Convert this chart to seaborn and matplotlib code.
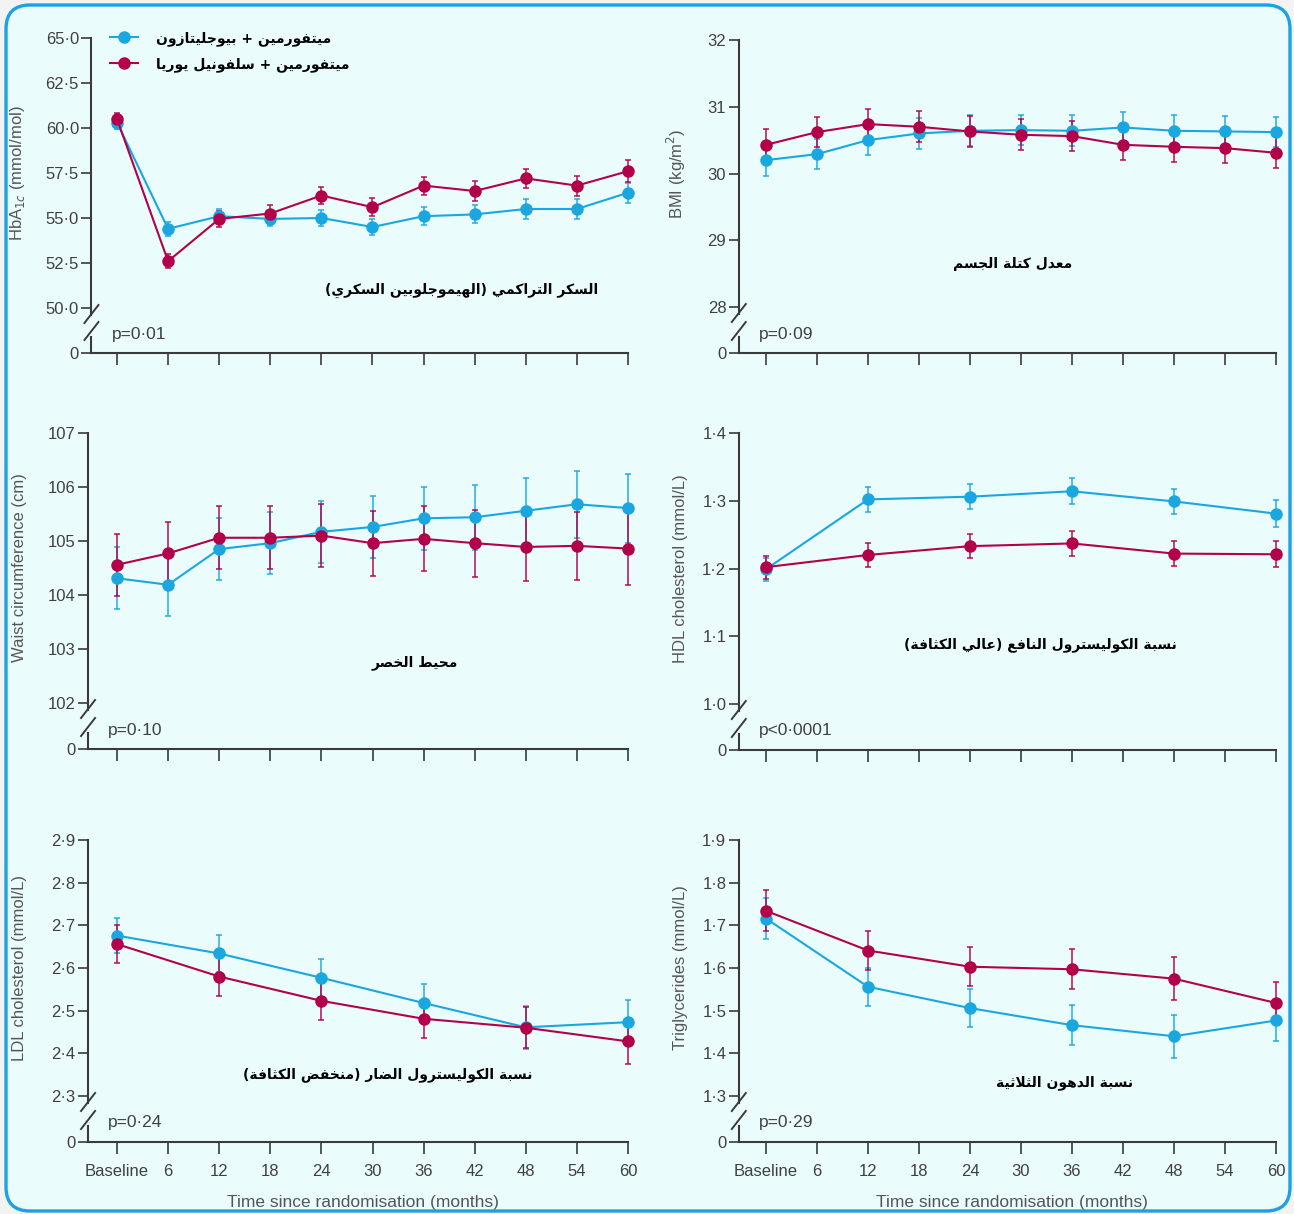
import numpy as np
import pandas as pd
import seaborn as sns
import matplotlib.pyplot as plt
from matplotlib.lines import Line2D
from matplotlib.patches import FancyBboxPatch

# ---- data ----
months = [0, 6, 12, 18, 24, 30, 36, 42, 48, 54, 60]
months_lipid = [0, 12, 24, 36, 48, 60]

hba1c_pio = [60.3, 54.4, 55.1, 54.95, 55.0, 54.5, 55.1, 55.2, 55.5, 55.5, 56.4]
hba1c_pio_se = [0.35, 0.4, 0.4, 0.4, 0.45, 0.45, 0.5, 0.5, 0.55, 0.55, 0.55]
hba1c_su = [60.5, 52.6, 54.95, 55.25, 56.25, 55.6, 56.8, 56.5, 57.2, 56.8, 57.6]
hba1c_su_se = [0.35, 0.4, 0.45, 0.45, 0.45, 0.5, 0.5, 0.55, 0.55, 0.55, 0.6]

bmi_pio = [30.2, 30.29, 30.5, 30.6, 30.64, 30.65, 30.64, 30.69, 30.64, 30.63, 30.62]
bmi_pio_se = [0.23] * 11
bmi_su = [30.43, 30.62, 30.74, 30.7, 30.63, 30.58, 30.56, 30.43, 30.4, 30.38, 30.31]
bmi_su_se = [0.23] * 11

waist_pio = [104.31, 104.19, 104.85, 104.96, 105.17, 105.26, 105.42, 105.44, 105.56, 105.68, 105.61]
waist_pio_se = [0.57, 0.57, 0.57, 0.57, 0.57, 0.57, 0.58, 0.6, 0.6, 0.62, 0.64]
waist_su = [104.56, 104.77, 105.06, 105.06, 105.1, 104.96, 105.04, 104.96, 104.89, 104.91, 104.86]
waist_su_se = [0.57, 0.58, 0.58, 0.58, 0.58, 0.6, 0.6, 0.62, 0.63, 0.63, 0.67]

hdl_pio = [1.199, 1.302, 1.306, 1.314, 1.299, 1.281]
hdl_pio_se = [0.017, 0.018, 0.018, 0.019, 0.019, 0.02]
hdl_su = [1.202, 1.220, 1.233, 1.237, 1.222, 1.221]
hdl_su_se = [0.017, 0.018, 0.018, 0.019, 0.019, 0.019]

ldl_pio = [2.676, 2.634, 2.577, 2.518, 2.461, 2.473]
ldl_pio_se = [0.042, 0.043, 0.045, 0.045, 0.05, 0.052]
ldl_su = [2.656, 2.58, 2.523, 2.481, 2.46, 2.428]
ldl_su_se = [0.045, 0.045, 0.045, 0.045, 0.048, 0.052]

trig_pio = [1.716, 1.556, 1.506, 1.466, 1.44, 1.477]
trig_pio_se = [0.047, 0.045, 0.045, 0.047, 0.05, 0.048]
trig_su = [1.734, 1.641, 1.603, 1.597, 1.575, 1.518]
trig_su_se = [0.048, 0.046, 0.046, 0.047, 0.05, 0.05]

group_names = ['ميتفورمين + بيوجليتازون', 'ميتفورمين + سلفونيل يوريا']
tick_labels = ['Baseline', '6', '12', '18', '24', '30', '36', '42', '48', '54', '60']

BLUE = '#1aa7e0'
RED = '#b3004b'

plt.rcParams['font.family'] = ['Liberation Sans Narrow', 'Liberation Sans', 'DejaVu Sans']

# ---- Arabic shaping (matplotlib has no complex text layout) ----
AR = {'ا': (0xFE8D, 2), 'ب': (0xFE8F, 4), 'ة': (0xFE93, 2), 'ت': (0xFE95, 4),
      'ث': (0xFE99, 4), 'ج': (0xFE9D, 4), 'ح': (0xFEA1, 4), 'خ': (0xFEA5, 4),
      'د': (0xFEA9, 2), 'ذ': (0xFEAB, 2), 'ر': (0xFEAD, 2), 'ز': (0xFEAF, 2),
      'س': (0xFEB1, 4), 'ش': (0xFEB5, 4), 'ص': (0xFEB9, 4), 'ض': (0xFEBD, 4),
      'ط': (0xFEC1, 4), 'ظ': (0xFEC5, 4), 'ع': (0xFEC9, 4), 'غ': (0xFECD, 4),
      'ف': (0xFED1, 4), 'ق': (0xFED5, 4), 'ك': (0xFED9, 4), 'ل': (0xFEDD, 4),
      'م': (0xFEE1, 4), 'ن': (0xFEE5, 4), 'ه': (0xFEE9, 4), 'و': (0xFEED, 2),
      'ى': (0xFEEF, 2), 'ي': (0xFEF1, 4)}


def shape_ar(s):
    tokens = []
    i = 0
    while i < len(s):
        if s[i] == 'ل' and i + 1 < len(s) and s[i + 1] == 'ا':
            tokens.append('LA')
            i += 2
        else:
            tokens.append(s[i])
            i += 1

    def is_ar(t):
        return t in AR or t == 'LA'

    def joins_next(t):
        return t in AR and AR[t][1] == 4

    out = []
    for k, t in enumerate(tokens):
        if not is_ar(t):
            out.append(t)
            continue
        prev = k > 0 and joins_next(tokens[k - 1])
        nxt = k + 1 < len(tokens) and is_ar(tokens[k + 1])
        if t == 'LA':
            out.append('\uFEFC' if prev else '\uFEFB')
            continue
        base, n = AR[t]
        if n == 4 and prev and nxt:
            f = 3
        elif n == 4 and nxt:
            f = 2
        elif prev:
            f = 1
        else:
            f = 0
        out.append(chr(base + f))
    txt = ''.join(reversed(out))
    return txt.translate(str.maketrans('()', ')('))


# ---- panel layout (pixels in the 1294x1214 picture) ----
panels = [
    dict(x=months, a=hba1c_pio, ae=hba1c_pio_se, b=hba1c_su, be=hba1c_su_se,
         x0=117, x60=628, xmin=-3.0, top_y=38, low_y=308, zero_y=353,
         top=65.0, low=50.0, step=2.5, dec=1, ylab='HbA$_{1c}$ (mmol/mol)',
         p='p=0·01', title='السكر التراكمي (الهيموجلوبين السكري)', txy=(462, 290), xt=False),
    dict(x=months, a=bmi_pio, ae=bmi_pio_se, b=bmi_su, be=bmi_su_se,
         x0=766, x60=1276, xmin=-3.2, top_y=40, low_y=307, zero_y=353,
         top=32, low=28, step=1, dec=0, ylab='BMI (kg/m$^2$)',
         p='p=0·09', title='معدل كتلة الجسم', txy=(1013, 264), xt=False),
    dict(x=months, a=waist_pio, ae=waist_pio_se, b=waist_su, be=waist_su_se,
         x0=117, x60=628, xmin=-3.4, top_y=433, low_y=703, zero_y=749,
         top=107, low=102, step=1, dec=0, ylab='Waist circumference (cm)',
         p='p=0·10', title='محيط الخصر', txy=(415, 663), xt=False),
    dict(x=months_lipid, a=hdl_pio, ae=hdl_pio_se, b=hdl_su, be=hdl_su_se,
         x0=766, x60=1276, xmin=-3.2, top_y=433, low_y=704, zero_y=750,
         top=1.4, low=1.0, step=0.1, dec=1, ylab='HDL cholesterol (mmol/L)',
         p='p<0·0001', title='نسبة الكوليسترول النافع (عالي الكثافة)', txy=(1040, 645), xt=False),
    dict(x=months_lipid, a=ldl_pio, ae=ldl_pio_se, b=ldl_su, be=ldl_su_se,
         x0=117, x60=628, xmin=-3.4, top_y=840, low_y=1096, zero_y=1142,
         top=2.9, low=2.3, step=0.1, dec=1, ylab='LDL cholesterol (mmol/L)',
         p='p=0·24', title='نسبة الكوليسترول الضار (منخفض الكثافة)', txy=(388, 1075), xt=True),
    dict(x=months_lipid, a=trig_pio, ae=trig_pio_se, b=trig_su, be=trig_su_se,
         x0=766, x60=1276, xmin=-3.2, top_y=840, low_y=1096, zero_y=1142,
         top=1.9, low=1.3, step=0.1, dec=1, ylab='Triglycerides (mmol/L)',
         p='p=0·29', title='نسبة الدهون الثلاثية', txy=(1065, 1083), xt=True),
]

W, H = 1294, 1214
fig = plt.figure(figsize=(W / 100, H / 100), dpi=100, facecolor='#f2f4f4')

# rounded card behind everything
fig.patches.append(FancyBboxPatch((6, 3), 1284, 1206, boxstyle='round,pad=0,rounding_size=24',
                                  transform=None, facecolor='#ebfcfd', edgecolor='none', zorder=-5))

SPINE = '#3a3a3a'
TXT = '#404040'

for i, pn in enumerate(panels):
    pxpm = (pn['x60'] - pn['x0']) / 60
    left = pn['x0'] + pn['xmin'] * pxpm
    wpx = pn['x60'] - left
    hpx = pn['zero_y'] - pn['top_y']
    ax = fig.add_axes([left / W, 1 - pn['zero_y'] / H, wpx / W, hpx / H])
    ax.set_facecolor('none')

    upp = (pn['top'] - pn['low']) / (pn['low_y'] - pn['top_y'])
    ybot = pn['low'] - (pn['zero_y'] - pn['low_y']) * upp

    df = pd.DataFrame({'month': list(pn['x']) * 2,
                       'value': list(pn['a']) + list(pn['b']),
                       'group': [group_names[0]] * len(pn['x']) + [group_names[1]] * len(pn['x'])})
    sns.lineplot(data=df, x='month', y='value', hue='group', hue_order=group_names,
                 palette=[BLUE, RED], marker='o', markersize=9, markeredgewidth=0,
                 linewidth=1.5, errorbar=None, legend=False, ax=ax, clip_on=False, zorder=3)
    for vals, errs, c in [(pn['a'], pn['ae'], BLUE), (pn['b'], pn['be'], RED)]:
        ax.errorbar(pn['x'], vals, yerr=errs, fmt='none', ecolor=c, elinewidth=1.3,
                    capsize=2.5, capthick=1.3, clip_on=False, zorder=2, alpha=0.8)

    ax.set_xlim(pn['xmin'], 60)
    ax.set_ylim(ybot, pn['top'])

    # ticks
    yt = list(np.arange(pn['low'], pn['top'] + pn['step'] / 2, pn['step']))
    ylabels = ['0'] + [f"{v:.{pn['dec']}f}".replace('.', '·') for v in yt]
    ax.set_yticks([ybot] + yt)
    ax.set_yticklabels(ylabels)
    ax.set_xticks(months)
    ax.set_xticklabels(tick_labels if pn['xt'] else [])
    ax.tick_params(axis='y', direction='out', length=7, width=1.2, color=SPINE,
                   labelsize=12, labelcolor=TXT, pad=2)
    ax.tick_params(axis='x', direction='out', length=8.5, width=1.2, color=SPINE,
                   labelsize=12, labelcolor=TXT, pad=7)

    for s in ['top', 'right']:
        ax.spines[s].set_visible(False)
    ax.spines['bottom'].set_color(SPINE)
    ax.spines['bottom'].set_linewidth(1.5)

    # broken left spine
    ax.spines['left'].set_color(SPINE)
    ax.spines['left'].set_linewidth(1.5)
    ax.spines['left'].set_bounds(pn['low'] - 7 * upp, pn['top'])
    low_f = (pn['zero_y'] - pn['low_y']) / hpx
    ax.plot([0, 0], [0, 16 / hpx], transform=ax.transAxes, color=SPINE, lw=1.5, clip_on=False)
    for cy in [low_f - 6 / hpx, 22 / hpx]:
        ax.plot([-7 / wpx, 7 / wpx], [cy - 9 / hpx, cy + 9 / hpx], transform=ax.transAxes,
                color=SPINE, lw=1.4, clip_on=False)

    # labels
    ax.set_xlabel('')
    ax.set_ylabel(pn['ylab'], fontsize=12, color='#555555')
    lx = 27 if pn['x0'] < 600 else 688
    ax.yaxis.set_label_coords((lx - left) / wpx,
                              (pn['zero_y'] - (pn['top_y'] + pn['low_y']) / 2) / hpx)

    spine_x = left
    fig.text((spine_x + 20) / W, 1 - (pn['zero_y'] - 19) / H, pn['p'], fontsize=12.5,
             color=TXT, ha='left', va='center')
    fig.text(pn['txy'][0] / W, 1 - pn['txy'][1] / H, shape_ar(pn['title']),
             family='DejaVu Sans', fontweight='bold', fontsize=10, color='black',
             ha='center', va='center')

    if i == 0:
        handles = [Line2D([], [], color=BLUE, marker='o', markersize=9, markeredgewidth=0, lw=1.5),
                   Line2D([], [], color=RED, marker='o', markersize=9, markeredgewidth=0, lw=1.5)]
        fig.legend(handles, [shape_ar(g) for g in group_names], loc='upper left',
                   bbox_to_anchor=(110 / W, 1 - 31 / H), frameon=False,
                   prop={'family': 'DejaVu Sans', 'weight': 'bold', 'size': 10},
                   handlelength=2.0, handletextpad=1.3, labelspacing=0.8, borderpad=0,
                   borderaxespad=0)

for cx in [363, 1012]:
    fig.text(cx / W, 1 - 1203 / H, 'Time since randomisation (months)', fontsize=12.5,
             color='#555555', ha='center', va='center')

# card border on top
fig.patches.append(FancyBboxPatch((6, 3), 1284, 1206, boxstyle='round,pad=0,rounding_size=24',
                                  transform=None, facecolor='none', edgecolor='#1ca2e2',
                                  linewidth=2.4, zorder=10))

fig.savefig('out.png', dpi=100, facecolor=fig.get_facecolor())
